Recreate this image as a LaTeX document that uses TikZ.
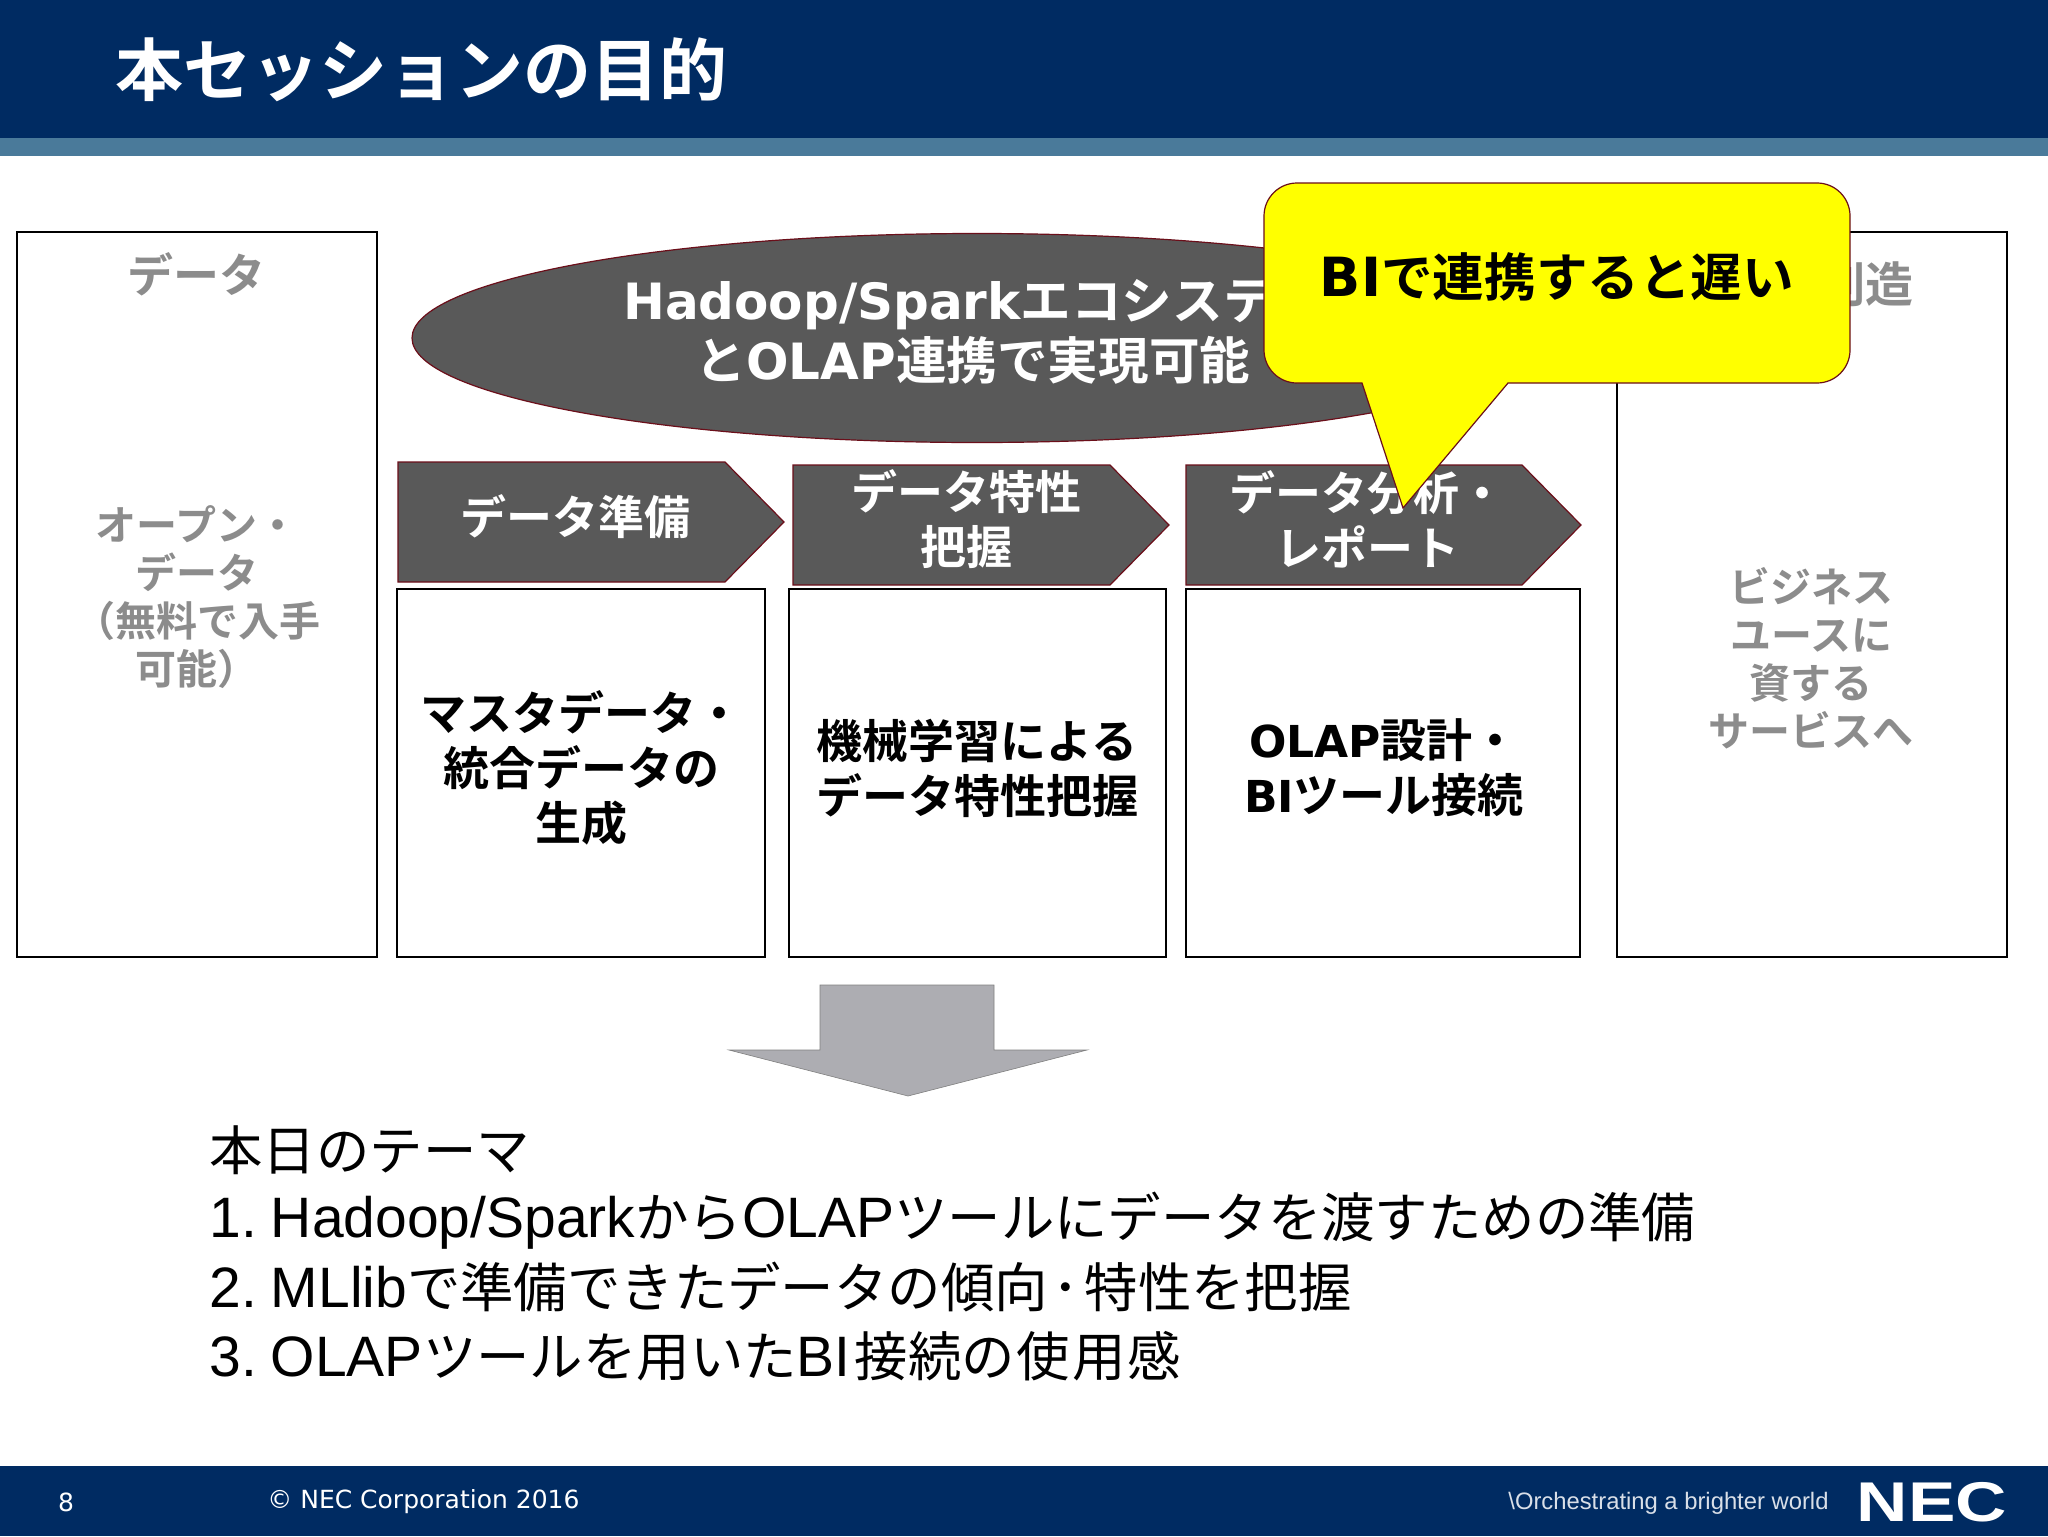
\documentclass[tikz,border=0pt]{standalone}
\usepackage{fontspec}
\usepackage{graphicx}
\setmainfont{Liberation Sans}
\newfontfamily\jpb{Noto Sans CJK JP Bold}
\newfontfamily\jpr{Noto Sans CJK JP}
\newfontfamily\latb{DejaVu Sans Bold}
\newfontfamily\lat{DejaVu Sans}
\newcommand{\fs}[2]{\fontsize{#1}{#2}\selectfont}
\newcommand{\jbody}[1]{{\jpr\fs{26.7}{34}#1}}
\definecolor{navy}{HTML}{002B62}
\definecolor{band}{HTML}{4A7A9A}
\definecolor{dk}{HTML}{595959}
\definecolor{rim}{HTML}{6B0F1A}
\definecolor{gr}{HTML}{8C8C8C}
\definecolor{arr}{HTML}{ADADB2}
\definecolor{yel}{HTML}{FFFF00}
\tikzset{
  panel/.style={draw=black,line width=0.8pt,fill=white},
  dark/.style={draw=rim,line width=0.6pt,fill=dk},
  graytxt/.style={text=gr,align=center,inner sep=0pt,font=\jpb\fs{20.5}{24}},
  whitetxt/.style={text=white,align=center,inner sep=0pt,font=\jpb\fs{23}{27.5}},
  blacktxt/.style={text=black,align=center,inner sep=0pt,font=\jpb\fs{23}{27.5}},
  body/.style={text=black,anchor=west,inner sep=0pt,font=\rmfamily\fs{28.5}{34}},
}
\begin{document}
\begin{tikzpicture}[x=0.5pt,y=-0.5pt]
\useasboundingbox (0,0) rectangle (2048,1536);
\fill[white] (0,0) rectangle (2048,1536);
% header
\fill[navy] (0,0) rectangle (2048,138);
\fill[band] (0,138) rectangle (2048,156);
\node[text=white,inner sep=0pt,anchor=west,font=\jpb\fs{34}{34}] (title) at (115,70) {本セッションの目的};
% panels
\draw[panel] (17,232) rectangle (377,957);
\draw[panel] (397,589) rectangle (765,957);
\draw[panel] (789,589) rectangle (1166,957);
\draw[panel] (1186,589) rectangle (1580,957);
\draw[panel] (1617,232) rectangle (2007,957);
% left / right texts
\node[graytxt,font=\jpb\fs{23}{24}] (dtitle) at (196,274) {データ};
\node[graytxt] (opendata) at (197,597) {オープン・\\データ\\（無料で入手\\可能）};
\node[graytxt,anchor=east,font=\jpb\fs{24}{24}] (vtitle) at (1914,284) {価値創造};
\node[graytxt] (biz) at (1811,658) {ビジネス\\ユースに\\資する\\サービスへ};
% ellipse
\draw[dark] (977,338) ellipse [x radius=565,y radius=104.5];
\node[whitetxt,font=\jpb\fs{25.3}{30}] (eco) at (973,332) {{\latb\fs{25}{30}Hadoop/Spark}エコシステム\\と{\latb\fs{25}{30}OLAP}連携で実現可能};
% chevrons
\draw[dark] (398,462) -- (725,462) -- (784,522) -- (725,582) -- (398,582) -- cycle;
\draw[dark] (793,465) -- (1110,465) -- (1169,525) -- (1110,585) -- (793,585) -- cycle;
\draw[dark] (1186,465) -- (1522,465) -- (1581,525) -- (1522,585) -- (1186,585) -- cycle;
\node[whitetxt] (c1) at (575,517) {データ準備};
\node[whitetxt] (c2) at (966,519) {データ特性\\把握};
\node[whitetxt] (c3) at (1367,519) {データ分析・\\レポート};
% box text
\node[blacktxt] (b1) at (581,768) {マスタデータ・\\統合データの\\生成};
\node[blacktxt] (b2) at (977,768) {機械学習による\\データ特性把握};
\node[blacktxt] (b3) at (1384,768) {{\latb\fs{22}{27.5}OLAP}設計・\\{\latb\fs{22}{27.5}BI}ツール接続};
% callout
\draw[draw=rim,line width=0.6pt,fill=yel,line join=miter]
  (1297,183) -- (1817,183) arc[start angle=-90,end angle=0,radius=33] -- (1850,350)
  arc[start angle=0,end angle=90,radius=33] -- (1508,383) -- (1403,508) -- (1362,383)
  -- (1297,383) arc[start angle=90,end angle=180,radius=33] -- (1264,216)
  arc[start angle=180,end angle=270,radius=33] -- cycle;
\node[blacktxt,font=\jpb\fs{25.8}{30}] (bi) at (1557,277) {{\latb\fs{27}{30}BI}で連携すると遅い};
% down arrow
\draw[draw=gray,line width=0.3pt,fill=arr] (820,985) -- (994,985) -- (994,1050) -- (1087,1050) -- (908,1096) -- (729,1050) -- (820,1050) -- cycle;
% theme
\node[body] (t0) at (209,1150) {\jbody{本日のテーマ}};
\node[body] (t1) at (209,1221) {1.\hspace{7pt}Hadoop/Spark\jbody{から}OLAP\jbody{ツールにデータを渡すための準備}};
\node[body] (t2) at (209,1287) {2.\hspace{7pt}MLlib\jbody{で準備できたデータの傾向\hspace{2.5pt}･\hspace{2.5pt}特性を把握}};
\node[body] (t3) at (209,1356) {3.\hspace{7pt}OLAP\jbody{ツールを用いた}BI\hspace{2pt}\jbody{接続の\hspace{1pt}使\hspace{1pt}用\hspace{1pt}感}};
% footer
\fill[navy] (0,1466) rectangle (2048,1536);
\node[text=white,inner sep=0pt,font=\lat\fs{12.5}{14}] (pg) at (66,1502) {8};
\node[text=white,inner sep=0pt,anchor=west,font=\lat\fs{12.5}{14}] (copy) at (267,1502) {© NEC Corporation 2016};
\node[text=white!85!navy,inner sep=0pt,anchor=west,font=\rmfamily\fs{11.9}{14}] (tag) at (1508,1503) {\textbackslash Orchestrating a brighter world};
\node[text=white,inner sep=0pt,anchor=center,font=\rmfamily\bfseries\fs{28}{28}] (nec) at (1932,1502) {\scalebox{1.27}[1]{NEC}};
\end{tikzpicture}
\end{document}
